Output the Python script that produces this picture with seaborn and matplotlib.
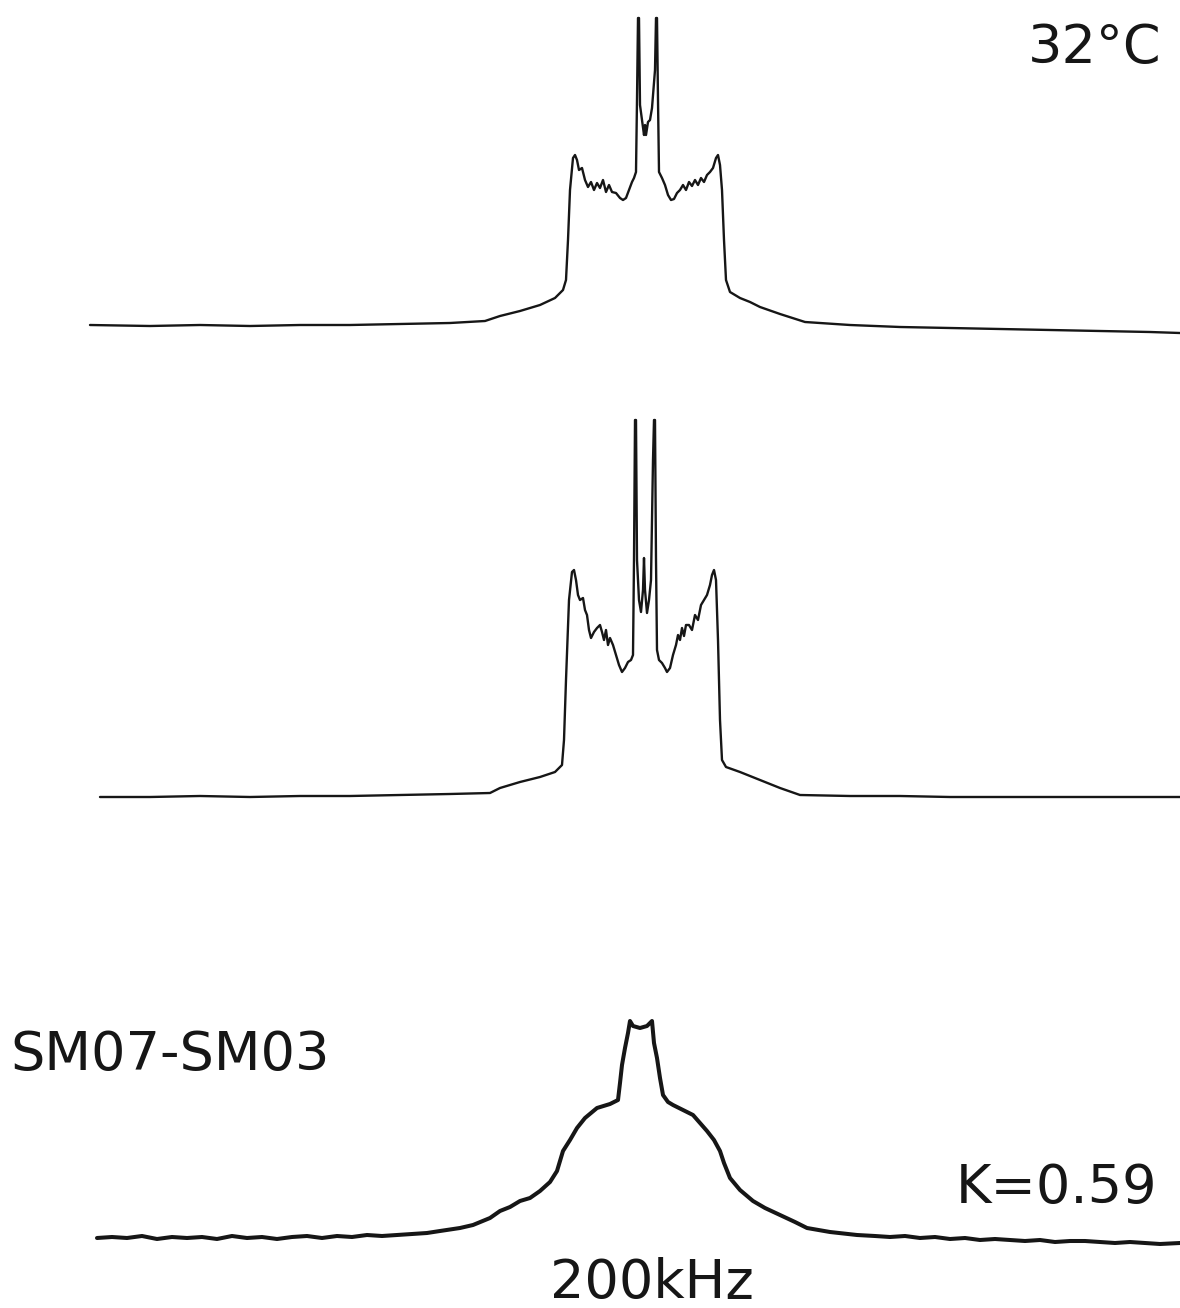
import matplotlib
matplotlib.use("Agg")
import matplotlib.pyplot as plt
import seaborn as sns
import numpy as np
import pandas as pd

sns.set_theme(style="white")
plt.rcParams['font.family'] = ['DejaVu Sans']

# ---- data: frequency (kHz, arbitrary origin) and intensity (a.u.) ----
freq_top = [-555, -495, -445, -395, -345, -295, -245, -195, -160, -145, -125, -105, -90, -82, -79, -77, -75,
            -72, -70, -68, -66, -63, -60, -57, -54, -51, -48, -45, -42, -39, -36, -33, -29, -25, -22, -19,
            -16, -13, -11, -9, -8, -7, -6, -5, -3, -1, 0, 1, 3, 5, 7, 10, 11, 12, 13, 14, 17, 20, 23, 26,
            29, 32, 35, 38, 41, 44, 47, 50, 53, 56, 59, 62, 65, 68, 71, 73, 75, 77, 79, 81, 85, 95, 105,
            115, 135, 160, 205, 255, 305, 355, 405, 455, 505, 535]
int_top = [0, -1, 0, -1, 0, 0, 1, 2, 4, 9, 14, 20, 27, 35, 45, 85, 135,
           167, 170, 165, 155, 157, 145, 138, 143, 135, 142, 137, 145, 133, 140, 133, 132, 127, 125, 127,
           135, 143, 147, 153, 225, 307, 307, 220, 205, 190, 200, 190, 203, 205, 217, 255, 307, 307, 225, 153, 147, 140, 130, 125,
           126, 132, 135, 140, 135, 143, 139, 145, 140, 147, 143, 150, 153, 157, 167, 170, 160, 135, 85, 45, 33, 27, 23,
           18, 11, 3, 0, -2, -3, -4, -5, -6, -7, -8]

freq_mid = [-545, -495, -445, -395, -345, -295, -245, -195, -155, -145, -125, -105, -90, -83, -81, -79, -76,
            -73, -71, -69, -67, -65, -62, -60, -58, -56, -54, -51, -48, -45, -43, -41, -39, -37, -35, -32,
            -29, -26, -23, -20, -17, -14, -12, -11, -10, -9, -8, -6, -4, -2, -1, 0, 2, 4, 6, 8, 9, 10, 11,
            12, 14, 17, 20, 22, 25, 28, 31, 33, 35, 37, 39, 41, 44, 47, 50, 53, 56, 59, 62, 65, 67, 69, 71,
            73, 75, 77, 81, 95, 115, 135, 155, 205, 255, 305, 355, 405, 455, 535]
int_mid = [0, 0, 1, 0, 1, 1, 2, 3, 4, 9, 15, 20, 25, 32, 57, 117, 197,
           225, 227, 217, 202, 197, 199, 187, 182, 167, 159, 165, 169, 172, 165, 157, 167, 152, 159, 152,
           142, 132, 125, 129, 135, 137, 142, 237, 377, 377, 237, 197, 185, 207, 239, 207, 184, 197, 217, 337, 377, 377, 237,
           147, 137, 134, 129, 125, 129, 142, 152, 162, 157, 169, 161, 172, 172, 167, 182, 177, 192, 197, 202, 212, 222, 227, 217,
           157, 77, 37, 30, 25, 17, 9, 2, 1, 1, 0, 0, 0, 0, 0]

freq_bot = [-548, -533, -518, -503, -488, -473, -458, -443, -428, -413, -398, -383, -368, -353, -338, -323,
            -308, -293, -278, -263, -248, -233, -218, -205, -185, -172, -155,
            -145, -135, -125, -115, -105, -95, -88, -85, -82, -75, -68, -60, -48, -35, -27, -25, -23, -20,
            -17, -15, -12, -5, 2, 7, 9, 12, 15, 18, 23, 28, 38, 48, 55, 62, 69, 75, 79, 85, 95, 108, 120,
            135, 150, 162, 185, 212, 230, 245, 260, 275, 290, 305, 320, 335, 350, 365, 380, 395, 410, 425,
            440, 455, 470, 485, 500, 515, 535]
int_bot = [0, 1, 0, 2, -1, 1, 0, 1, -1, 2, 0, 1, -1, 1, 2, 0,
           2, 1, 3, 2, 3, 4, 5, 7, 10, 13, 20,
           27, 31, 37, 40, 47, 56, 67, 77, 87, 98, 110, 120, 130, 134, 138, 155, 173, 190,
           205, 217, 212, 210, 212, 217, 195, 180, 160, 143, 136, 133, 128, 123, 115, 107, 98, 87, 75, 60, 48, 37, 30,
           23, 16, 10, 6, 3, 2, 1, 2, 0, 1, -1, 0, -2, -1, -2, -3, -2, -4, -3,
           -3, -4, -5, -4, -5, -6, -5]

offsets = {"top": 983, "mid": 511, "bot": 70}

frames = []
for name, f, i in [("top", freq_top, int_top), ("mid", freq_mid, int_mid), ("bot", freq_bot, int_bot)]:
    frames.append(pd.DataFrame({"freq": f, "signal": np.array(i) + offsets[name], "trace": name}))
df = pd.concat(frames, ignore_index=True)

fig = plt.figure(figsize=(11.8, 13.08), dpi=100)
ax = fig.add_axes([0, 0, 1, 1])
ink = "#161616"
for name, lw in [("top", 1.7), ("mid", 1.7), ("bot", 2.9)]:
    sns.lineplot(data=df[df.trace == name], x="freq", y="signal", ax=ax,
                 color=ink, lw=lw, sort=True, estimator=None, legend=False)

ax.set_xlim(-645, 535)
ax.set_ylim(0, 1308)
ax.axis("off")

fs = 39
ax.text(517, 1245, "32°C", ha="right", va="baseline", fontsize=fs, color=ink)
ax.text(-635, 238, "SM07-SM03", ha="left", va="baseline", fontsize=fs, color=ink)
ax.text(512, 105, "K=0.59", ha="right", va="baseline", fontsize=fs, color=ink)
ax.text(7, 10, "200kHz", ha="center", va="baseline", fontsize=fs, color=ink)

fig.savefig("out.png", dpi=100, facecolor="white")
